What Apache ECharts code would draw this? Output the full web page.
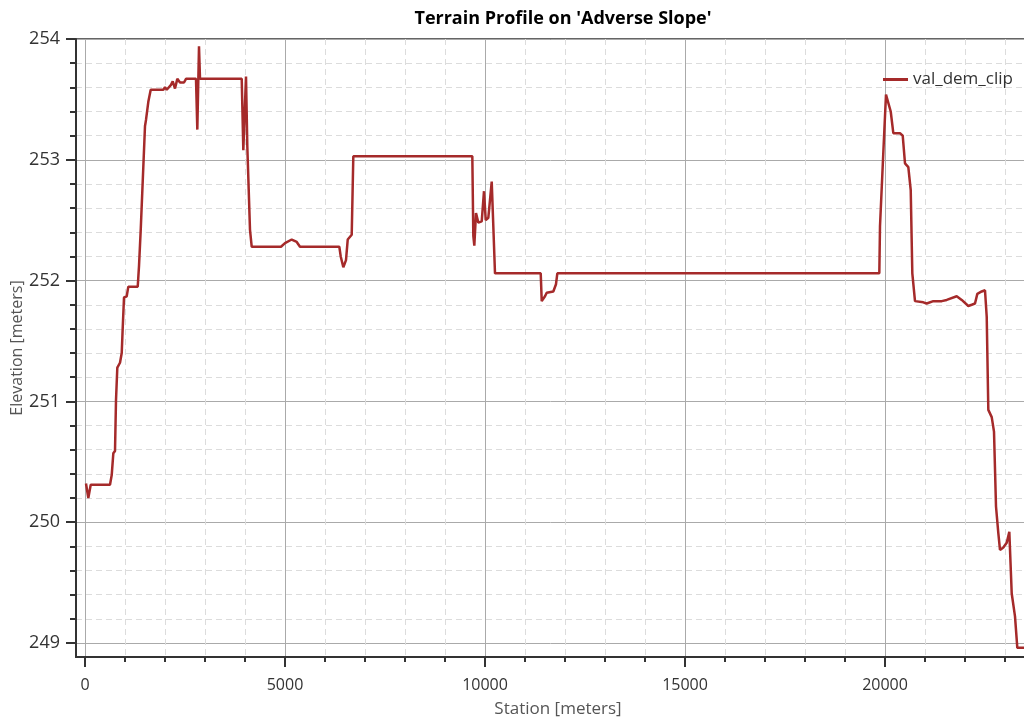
<!DOCTYPE html>
<html>
<head>
<meta charset="utf-8">
<script src="https://cdn.jsdelivr.net/npm/echarts@6/dist/echarts.min.js"></script>
<style>
html,body{margin:0;padding:0;background:#fff;}
#chart{width:1024px;height:719px;}
</style>
</head>
<body>
<div id="chart"></div>
<script>
const titleText = "Terrain Profile on 'Adverse Slope'";
const seriesName = "val_dem_clip";
const xAxisName = "Station [meters]";
const yAxisName = "Elevation [meters]";

const xMajorTicks = [0, 5000, 10000, 15000, 20000];
const xMinorTicks = [1000, 2000, 3000, 4000, 6000, 7000, 8000, 9000, 11000, 12000, 13000, 14000, 16000, 17000, 18000, 19000, 21000, 22000, 23000];
const yMajorTicks = [249, 250, 251, 252, 253, 254];
const yMinorTicks = [249.2, 249.4, 249.6, 249.8, 250.2, 250.4, 250.6, 250.8, 251.2, 251.4, 251.6, 251.8, 252.2, 252.4, 252.6, 252.8, 253.2, 253.4, 253.6, 253.8];

const stations = [
  25, 83, 143, 625, 668, 708, 750, 775, 808, 875, 918, 943, 975, 1043, 1083, 1318, 1350, 1393, 1418,
  1500, 1525, 1583, 1643, 1958, 2000, 2043, 2150, 2193, 2250, 2308, 2375, 2475, 2525, 2775, 2808,
  2850, 2875, 3918, 3958, 4025, 4058, 4125, 4168, 4900, 5000, 5168, 5293, 5375, 6358, 6393, 6458,
  6525, 6568, 6668, 6708, 9683, 9708, 9733, 9775, 9833, 9918, 9975, 10018, 10083, 10168, 10250,
  11393, 11418, 11500, 11543, 11708, 11775, 11808, 19858, 19875, 19958, 20025, 20143, 20208, 20375,
  20443, 20500, 20583, 20643, 20683, 20750, 20958, 21043, 21208, 21418, 21543, 21793, 21918, 22083,
  22168, 22250, 22308, 22418, 22500, 22543, 22583, 22668, 22725, 22775, 22833, 22875, 22958, 23043,
  23108, 23168, 23250, 23308, 23475
];
const elevations = [
  250.32, 250.20, 250.31, 250.31, 250.39, 250.57, 250.59, 251.01, 251.28, 251.32, 251.40, 251.61, 251.86, 251.87, 251.95, 251.95, 252.12, 252.42, 252.43,
  253.28, 253.33, 253.48, 253.58, 253.58, 253.60, 253.58, 253.62, 253.65, 253.59, 253.67, 253.64, 253.64, 253.67, 253.67, 253.25,
  253.94, 253.67, 253.67, 253.08, 253.69, 253.11, 252.42, 252.28, 252.28, 252.31, 252.34, 252.32, 252.28, 252.28, 252.20, 252.11,
  252.17, 252.34, 252.38, 253.03, 253.03, 252.37, 252.29, 252.56, 252.48, 252.49, 252.74, 252.50, 252.52, 252.82, 252.06,
  252.06, 251.83, 251.87, 251.90, 251.91, 251.97, 252.06, 252.06, 252.45, 253.06, 253.54, 253.40, 253.22, 253.22,
  253.20, 252.97, 252.94, 252.75, 252.06, 251.83, 251.82, 251.81, 251.83, 251.83, 251.84, 251.87, 251.84, 251.79,
  251.80, 251.81, 251.89, 251.91, 251.92, 251.70, 250.93, 250.87, 250.75, 250.13, 249.91, 249.77, 249.79, 249.83,
  249.92, 249.41, 249.22, 248.96, 248.96
];

const data = stations.map((s, i) => [s, elevations[i]]);

const X_MIN = -225, X_MAX = 23875, Y_MIN = 248.884, Y_MAX = 254;
const FONT = "'Open Sans', 'Noto Sans', sans-serif";
const plain = v => String(v);

const chart = echarts.init(document.getElementById('chart'), null, {renderer: 'canvas'});
chart.setOption({
  backgroundColor: '#fff',
  animation: false,
  title: {
    text: titleText,
    left: 558, textAlign: 'center', top: 5,
    textStyle: {fontFamily: FONT, fontWeight: 'bold', fontSize: 18, color: '#000'}
  },
  legend: {
    data: [{name: seriesName, icon: 'rect'}],
    left: 878, top: 66,
    itemWidth: 25, itemHeight: 3, itemGap: 5,
    textStyle: {fontFamily: FONT, fontSize: 17, color: '#333'}
  },
  grid: {
    left: 76, top: 39, right: -16, bottom: 62,
    outerBoundsMode: 'none',
    show: true, borderColor: '#333', borderWidth: 1.5, containLabel: false
  },
  xAxis: [
    {
      type: 'value', min: X_MIN, max: X_MAX, position: 'bottom',
      name: xAxisName, nameLocation: 'middle', nameGap: 44, nameMoveOverlap: false,
      nameTextStyle: {fontFamily: FONT, fontSize: 17, color: '#555'},
      axisLine: {show: true, onZero: false, lineStyle: {color: '#333', width: 2}},
      axisTick: {show: true, customValues: xMajorTicks, length: 10, lineStyle: {color: '#333', width: 2}},
      axisLabel: {show: true, customValues: xMajorTicks, formatter: plain, margin: 20, fontFamily: FONT, fontSize: 16, color: '#333'},
      splitLine: {show: true, lineStyle: {color: '#aaaaaa', width: 1, type: 'solid'}}
    },
    {
      type: 'value', min: X_MIN, max: X_MAX, position: 'bottom',
      axisLine: {show: false, onZero: false},
      axisTick: {show: true, customValues: xMinorTicks, length: 5, lineStyle: {color: '#333', width: 2}},
      axisLabel: {show: false},
      splitLine: {show: true, lineStyle: {color: '#dcdcdc', width: 1, type: [6, 4]}}
    }
  ],
  yAxis: [
    {
      type: 'value', min: Y_MIN, max: Y_MAX, position: 'left',
      name: yAxisName, nameLocation: 'middle', nameGap: 51, nameRotate: 90, nameMoveOverlap: false,
      nameTextStyle: {fontFamily: FONT, fontSize: 16, color: '#555', padding: [0, 0, 0, 0]},
      axisLine: {show: true, onZero: false, lineStyle: {color: '#333', width: 2}},
      axisTick: {show: true, customValues: yMajorTicks, length: 10, lineStyle: {color: '#333', width: 2}},
      axisLabel: {show: true, customValues: yMajorTicks, formatter: plain, margin: 16, fontFamily: FONT, fontSize: 18, color: '#333'},
      splitLine: {show: true, lineStyle: {color: '#aaaaaa', width: 1, type: 'solid'}}
    },
    {
      type: 'value', min: Y_MIN, max: Y_MAX, position: 'left', offset: 0,
      axisLine: {show: false, onZero: false},
      axisTick: {show: true, customValues: yMinorTicks, length: 6, lineStyle: {color: '#333', width: 2}},
      axisLabel: {show: false},
      splitLine: {show: true, lineStyle: {color: '#dcdcdc', width: 1, type: [6, 4]}}
    }
  ],
  series: [{
    name: seriesName,
    type: 'line',
    xAxisIndex: 0, yAxisIndex: 0,
    data: data,
    symbol: 'none', showSymbol: false,
    lineStyle: {color: '#a52a2a', width: 2.5},
    itemStyle: {color: '#a52a2a'},
    z: 5
  }]
});
</script>
</body>
</html>
